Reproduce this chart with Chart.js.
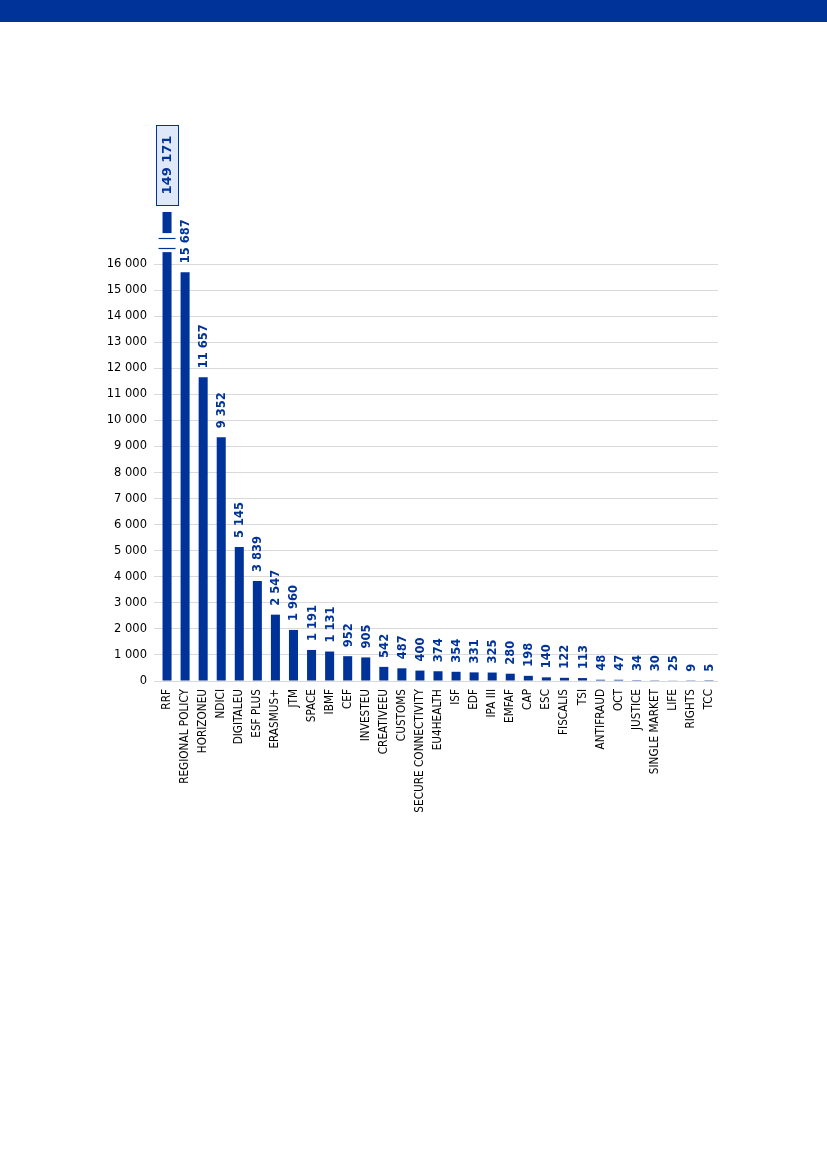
<!DOCTYPE html>
<html lang="en">
<head>
    <meta charset="UTF-8">
    <title>Programmes</title>
    <script src="https://cdn.jsdelivr.net/npm/chart.js"></script>
    <style>
        html, body { margin: 0; padding: 0; background: #ffffff; }
        body { width: 827px; height: 1169px; position: relative; overflow: hidden; }
        .band { position: absolute; top: 0; left: 0; width: 827px; height: 22px; background: #003399; z-index: 2; }
        .wrap { position: absolute; top: 0; left: 0; width: 827px; height: 830px; }
    </style>
</head>
<body>
    <div class="band"></div>
    <div class="wrap"><canvas id="chart"></canvas></div>

    <script>
        // Data
        const categories = ['RRF', 'REGIONAL POLICY', 'HORIZONEU', 'NDICI', 'DIGITALEU', 'ESF PLUS', 'ERASMUS+',
            'JTM', 'SPACE', 'IBMF', 'CEF', 'INVESTEU', 'CREATIVEEU', 'CUSTOMS', 'SECURE CONNECTIVITY',
            'EU4HEALTH', 'ISF', 'EDF', 'IPA III', 'EMFAF', 'CAP', 'ESC', 'FISCALIS', 'TSI', 'ANTIFRAUD',
            'OCT', 'JUSTICE', 'SINGLE MARKET', 'LIFE', 'RIGHTS', 'TCC'];
        const values = [149171, 15687, 11657, 9352, 5145, 3839, 2547, 1960, 1191, 1131, 952, 905, 542, 487,
            400, 374, 354, 331, 325, 280, 198, 140, 122, 113, 48, 47, 34, 30, 25, 9, 5];
        const yTicks = [0, 1000, 2000, 3000, 4000, 5000, 6000, 7000, 8000, 9000, 10000,
            11000, 12000, 13000, 14000, 15000, 16000];
        // axis break on the first bar (value range that is cut out)
        const breakRange = [16460, 17190];
        const breakLines = [16615, 17000];

        const BLUE = '#003399';
        const fmt = v => String(v).replace(/\B(?=(\d{3})+(?!\d))/g, ' ');

        const labelPlugin = {
            id: 'barLabels',
            afterDatasetsDraw(chart) {
                const ctx = chart.ctx;
                const y = chart.scales.y;
                const meta = chart.getDatasetMeta(0);
                ctx.save();

                // break on the first bar
                const b0 = meta.data[0];
                const yTop = y.getPixelForValue(breakRange[1]);
                const yBot = y.getPixelForValue(breakRange[0]);
                ctx.fillStyle = '#ffffff';
                ctx.fillRect(b0.x - b0.width / 2 - 1, yTop, b0.width + 2, yBot - yTop);
                ctx.strokeStyle = BLUE;
                ctx.lineWidth = 1.2;
                breakLines.forEach(v => {
                    const py = Math.round(y.getPixelForValue(v)) + 0.5;
                    ctx.beginPath();
                    ctx.moveTo(b0.x - 8.5, py);
                    ctx.lineTo(b0.x + 8.5, py);
                    ctx.stroke();
                });

                // boxed label for the first bar
                const boxW = 22, boxH = 80;
                const boxBottom = chart.chartArea.top - 7;
                ctx.fillStyle = '#dfe8f8';
                ctx.fillRect(b0.x - boxW / 2, boxBottom - boxH, boxW, boxH);
                ctx.strokeStyle = BLUE;
                ctx.lineWidth = 1;
                ctx.strokeRect(Math.round(b0.x - boxW / 2) + 0.5, boxBottom - boxH + 0.5, boxW, boxH);
                ctx.save();
                ctx.translate(b0.x + 1, boxBottom - boxH / 2);
                ctx.rotate(-Math.PI / 2);
                ctx.fillStyle = BLUE;
                ctx.font = 'bold 13px "DejaVu Sans"';
                ctx.textAlign = 'center';
                ctx.textBaseline = 'middle';
                ctx.fillText(fmt(values[0]), 0, 0);
                ctx.restore();

                // value labels for the other bars
                ctx.font = 'bold 11.5px "DejaVu Sans"';
                ctx.fillStyle = BLUE;
                ctx.textAlign = 'left';
                ctx.textBaseline = 'middle';
                meta.data.forEach((bar, i) => {
                    if (i === 0) return;
                    ctx.save();
                    ctx.translate(bar.x + 1, bar.y - 9);
                    ctx.rotate(-Math.PI / 2);
                    ctx.fillText(fmt(values[i]), 0, 0);
                    ctx.restore();
                });
                ctx.restore();
            }
        };

        new Chart(document.getElementById('chart'), {
            type: 'bar',
            data: {
                labels: categories,
                datasets: [{
                    data: values,
                    backgroundColor: BLUE,
                    barPercentage: 0.5,
                    categoryPercentage: 1.0
                }]
            },
            options: {
                responsive: true,
                maintainAspectRatio: false,
                animation: false,
                layout: { padding: { top: 212, right: 109, left: 0, bottom: 0 } },
                plugins: { legend: { display: false }, tooltip: { enabled: false } },
                scales: {
                    x: {
                        grid: { display: false },
                        border: { display: false },
                        ticks: {
                            autoSkip: false,
                            minRotation: 90,
                            maxRotation: 90,
                            padding: 0,
                            color: '#000000',
                            font: { family: '"DejaVu Sans Condensed", "DejaVu Sans"', size: 11.7 }
                        },
                        afterFit(scale) { scale.height = 149; }
                    },
                    y: {
                        min: 0,
                        max: 18000,
                        afterBuildTicks(scale) { scale.ticks = yTicks.map(v => ({ value: v })); },
                        grid: { color: '#d9d9d9', lineWidth: 1, tickLength: 4 },
                        border: { display: false },
                        ticks: {
                            padding: 7,
                            color: '#000000',
                            font: { family: '"DejaVu Sans"', size: 11.5 },
                            callback: v => fmt(v)
                        },
                        afterFit(scale) { scale.width = 158; }
                    }
                }
            },
            plugins: [labelPlugin]
        });
    </script>
</body>
</html>
